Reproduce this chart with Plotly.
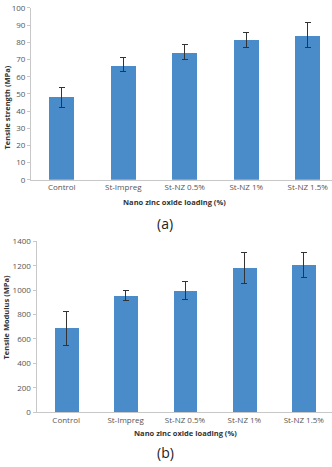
import plotly.graph_objects as go

categories = ["Control", "St-Impreg", "St-NZ 0.5%", "St-NZ 1%", "St-NZ 1.5%"]

strength = [48, 66.5, 74, 81.5, 84]
strength_err_plus = [6, 4.5, 4.5, 4.5, 7.5]
strength_err_minus = [6, 3.5, 4, 4.5, 7]

modulus = [688, 950, 992, 1178, 1202]
modulus_err_plus = [137, 45, 78, 132, 103]
modulus_err_minus = [138, 35, 72, 123, 102]

strength_ticks = list(range(0, 101, 10))
modulus_ticks = list(range(0, 1401, 200))

BAR = "#4a8cca"
FONT = "Open Sans"
TICKC = "#555555"

W, H = 332, 467

def py(p):
    return (H - p) / H

fig = go.Figure()

fig.add_trace(go.Bar(
    x=categories, y=strength, width=0.41, marker_color=BAR, marker_line_width=0,
    error_y=dict(type="data", symmetric=False, array=strength_err_plus,
                 arrayminus=strength_err_minus, color="#333333", thickness=1, width=3),
    xaxis="x", yaxis="y", showlegend=False))

fig.add_trace(go.Bar(
    x=categories, y=modulus, width=0.40, marker_color=BAR, marker_line_width=0,
    error_y=dict(type="data", symmetric=False, array=modulus_err_plus,
                 arrayminus=modulus_err_minus, color="#333333", thickness=1, width=3),
    xaxis="x2", yaxis="y2", showlegend=False))

axis_common = dict(showgrid=False, zeroline=False, showline=True, linecolor="#c8c8c8",
                   linewidth=1, tickfont=dict(family=FONT, size=8, color=TICKC))

fig.update_layout(
    width=W, height=H, margin=dict(l=0, r=0, t=0, b=0),
    plot_bgcolor="white", paper_bgcolor="white",
    bargap=0,
    xaxis=dict(domain=[31 / W, 1], range=[-0.5, -0.5 + (W - 31) / 61.5], anchor="y",
               ticks="", **axis_common),
    yaxis=dict(domain=[py(178), py(2)], range=[0, 100], anchor="x",
               tickvals=strength_ticks, ticks="outside", ticklen=3, tickcolor="#c8c8c8",
               **axis_common),
    xaxis2=dict(domain=[36.5 / W, 1], range=[-0.5, -0.5 + (W - 36.5) / 59.4], anchor="y2",
                ticks="", **axis_common),
    yaxis2=dict(domain=[py(416), py(241)], range=[0, 1400], anchor="x2",
                tickvals=modulus_ticks, ticks="outside", ticklen=3, tickcolor="#c8c8c8",
                **axis_common),
)

ann = []
def text(x, y, s, size=8, bold=False, angle=0, color="#333333"):
    ann.append(dict(x=x / W, y=py(y), xref="paper", yref="paper", text=f"<b>{s}</b>" if bold else s,
                    showarrow=False, textangle=angle, xanchor="center", yanchor="middle",
                    font=dict(family=FONT, size=size, color=color)))

text(174, 200.5, "Nano zinc oxide loading (%)", size=7.5, bold=True)
text(165, 223, "(a)", size=14, color="#222222")
text(7, 104, "Tensile strength (MPa)", size=7.5, bold=True, angle=-90)
text(185, 437, "Nano zinc oxide loading (%)", size=7.5, bold=True)
text(165, 457, "(b)", size=14, color="#222222")
text(6, 319, "Tensile Modulus (MPa)", size=7.5, bold=True, angle=-90)

fig.update_layout(annotations=ann)

fig.write_html("out.html")
